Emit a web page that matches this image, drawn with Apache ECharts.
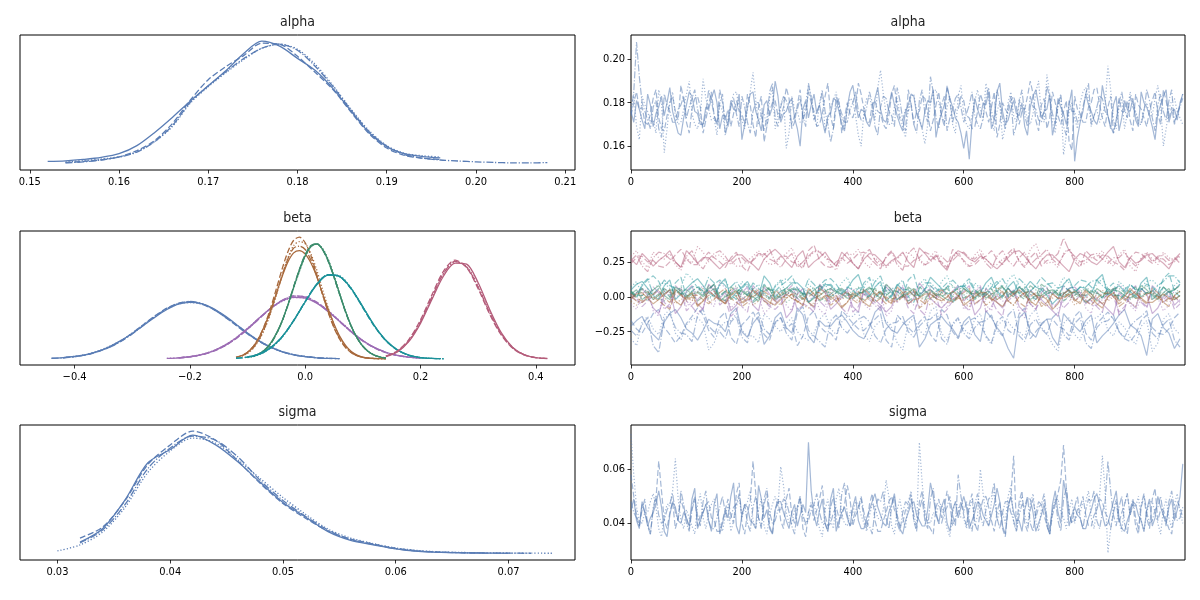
<!DOCTYPE html>
<html><head><meta charset="utf-8">
<script src="https://cdn.jsdelivr.net/npm/echarts@6/dist/echarts.min.js"></script>
<style>html,body{margin:0;padding:0;background:#fff}#c{width:1200px;height:600px}</style>
</head><body><div id="c"></div>
<script>
// ---------------- DATA ----------------
const varNames = ['alpha', 'beta', 'sigma'];
const drawTicks = [0, 200, 400, 600, 800];
const alphaKdeTicks = [0.15, 0.16, 0.17, 0.18, 0.19, 0.20, 0.21];
const betaKdeTicks = [-0.4, -0.2, 0.0, 0.2, 0.4];
const sigmaKdeTicks = [0.03, 0.04, 0.05, 0.06, 0.07];
const alphaTraceTicks = [0.16, 0.18, 0.20];
const betaTraceTicks = [-0.25, 0.00, 0.25];
const sigmaTraceTicks = [0.04, 0.06];
const alphaThin = 5, sigmaThin = 5, betaThin = 10; // draws kept every N iterations

// KDE of alpha, one row per chain
const alphaKdeGrid = [.152,.154,.156,.158,.160,.162,.164,.166,.168,.170,.172,.174,.176,.178,.180,.182,.184,.186,.188,.190,.192,.194,.196,.198,.200,.202,.204,.206,.208];
const alphaKde = [
 [1.2,1.5,2.2,3.2,5.0,9.0,15.5,23,31,38.5,46,54.5,60.5,58,52,46,37,26,15.5,8.5,5,3.6,3.0,null,null,null,null,null,null],
 [null,.6,1.2,2.0,3.4,6.5,11.5,20,31.5,41.5,48,53.5,59.5,59,53,45,36.5,25.5,15,7.8,4.2,2.8,2.2,null,null,null,null,null,null],
 [null,1.0,1.6,2.4,3.5,6.0,11,18.5,30,38,45,51.5,57,59,56.5,49,38.5,27,16.5,9.0,5.2,4.0,3.4,null,null,null,null,null,null],
 [null,.5,1.0,1.9,3.3,5.8,11,19,30.5,38.5,45.5,52,57,59,56,48,38,26.5,16,8.8,4.6,2.8,1.9,1.4,1.0,.7,.5,.5,.6]
];

// KDE of beta: one grid per coefficient, one row per chain
const betaKdeGrids = [
 [-.44,-.42,-.40,-.38,-.36,-.34,-.32,-.30,-.28,-.26,-.24,-.22,-.20,-.18,-.16,-.14,-.12,-.10,-.08,-.06,-.04,-.02,0,.02,.04,.06],
 [-.24,-.22,-.20,-.18,-.16,-.14,-.12,-.10,-.08,-.06,-.04,-.02,0,.02,.04,.06,.08,.10,.12,.14,.16,.18,.20],
 [-.12,-.11,-.10,-.09,-.08,-.07,-.06,-.05,-.04,-.03,-.02,-.01,0,.01,.02,.03,.04,.05,.06,.07,.08,.09,.10,.11,.12,.13,.14],
 [-.10,-.09,-.08,-.07,-.06,-.05,-.04,-.03,-.02,-.01,0,.01,.02,.03,.04,.05,.06,.07,.08,.09,.10,.11,.12,.13,.14],
 [-.12,-.10,-.08,-.06,-.04,-.02,0,.02,.04,.06,.08,.10,.12,.14,.16,.18,.20,.22,.24],
 [.14,.16,.18,.20,.22,.24,.26,.28,.30,.32,.34,.36,.38,.40,.42]
];
const betaKde = [
 [
  [.06,.12,.22,.38,.66,1.08,1.62,2.25,2.98,3.72,4.38,4.86,5.02,4.90,4.48,3.84,3.08,2.30,1.60,1.04,.63,.36,.20,.10,.05,null],
  [null,.10,.20,.36,.64,1.03,1.57,2.28,3.08,3.85,4.50,4.93,5.08,4.88,4.40,3.74,2.98,2.22,1.56,1.03,.64,.37,.21,.11,.05,.02],
  [null,.11,.22,.40,.70,1.10,1.62,2.30,3.05,3.80,4.42,4.85,5.00,4.86,4.45,3.80,3.05,2.28,1.62,1.08,.67,.39,.22,.12,null,null],
  [.05,.10,.20,.36,.63,1.02,1.55,2.22,3.00,3.78,4.46,4.92,5.10,4.92,4.42,3.76,3.00,2.24,1.58,1.04,.64,.36,.20,.10,.05,.03]
 ],
 [
  [.04,.09,.19,.38,.70,1.20,1.86,2.70,3.62,4.50,5.15,5.46,5.40,4.95,4.20,3.32,2.42,1.63,1.02,.59,.31,.15,.07],
  [null,.08,.18,.36,.66,1.13,1.79,2.62,3.56,4.46,5.18,5.58,5.52,5.03,4.25,3.33,2.39,1.58,.97,.56,.30,.14,null],
  [.05,.10,.20,.40,.72,1.21,1.88,2.71,3.62,4.46,5.10,5.44,5.41,5.00,4.27,3.38,2.45,1.62,.99,.57,.30,.14,.06],
  [null,.09,.19,.37,.68,1.15,1.81,2.64,3.57,4.48,5.20,5.56,5.47,4.98,4.20,3.30,2.38,1.60,1.00,.59,.32,.16,.07]
 ],
 [
  [.13,.30,.60,1.1,1.9,3.0,4.3,5.8,7.3,8.6,9.4,9.6,9.3,8.5,7.3,5.8,4.4,3.1,2.0,1.2,.65,.33,.16,.08,.04,.02,.01],
  [.15,.30,.60,1.12,1.92,3.05,4.52,6.22,7.98,9.50,10.52,10.80,10.30,9.12,7.50,5.75,4.12,2.76,1.72,1.00,.54,.27,.13,.06,.03,null,null],
  [null,.24,.50,.95,1.66,2.70,4.05,5.68,7.40,8.95,10.05,10.40,10.22,9.30,7.88,6.18,4.50,3.05,1.92,1.12,.60,.30,.14,.06,.03,.01,null],
  [null,.26,.53,1.00,1.74,2.80,4.16,5.76,7.40,8.86,9.82,10.00,9.70,8.74,7.34,5.72,4.16,2.82,1.78,1.04,.56,.28,.13,.06,.03,.01,.01]
 ],
 [
  [null,.24,.46,.82,1.40,2.26,3.38,4.78,6.34,7.84,9.14,9.96,10.18,9.73,8.72,7.30,5.74,4.21,2.90,1.86,1.12,.63,.33,.16,.07],
  [null,null,.42,.78,1.35,2.22,3.35,4.80,6.42,7.95,9.25,10.05,10.22,9.70,8.64,7.22,5.66,4.14,2.85,1.84,1.12,.64,.34,.17,null],
  [.12,.24,.46,.82,1.40,2.24,3.32,4.70,6.25,7.75,9.06,9.92,10.20,9.80,8.82,7.40,5.80,4.24,2.90,1.86,1.12,.62,.32,.16,.08],
  [null,.20,.41,.76,1.33,2.20,3.34,4.78,6.38,7.90,9.20,10.02,10.20,9.70,8.66,7.24,5.68,4.17,2.88,1.86,1.13,.64,.34,.17,.08]
 ],
 [
  [null,.17,.44,1.00,1.98,3.40,5.05,6.56,7.42,7.30,6.24,4.62,2.96,1.65,.80,.33,.12,.04,null],
  [.06,.17,.43,.99,1.97,3.42,5.10,6.64,7.48,7.30,6.18,4.53,2.88,1.60,.77,.32,.12,.04,.01],
  [null,.14,.39,.94,1.92,3.36,5.04,6.60,7.48,7.36,6.26,4.60,2.94,1.63,.79,.33,.12,.04,.01],
  [.05,.15,.40,.96,1.94,3.38,5.08,6.62,7.44,7.28,6.20,4.58,2.94,1.64,.79,.32,.12,.05,.02]
 ],
 [
  [.20,.62,1.55,3.15,5.30,7.35,8.50,8.40,6.75,4.38,2.34,1.02,.37,.11,.03],
  [.25,.72,1.74,3.46,5.70,7.78,8.76,8.10,6.22,3.96,2.12,.94,.35,.11,.03],
  [.22,.66,1.62,3.28,5.46,7.55,8.62,8.20,6.45,4.16,2.24,.99,.36,.11,null],
  [.24,.68,1.64,3.30,5.50,7.58,8.64,8.14,6.36,4.10,2.22,.98,.37,.12,.04]
 ]
];

// KDE of sigma, one row per chain
const sigmaKdeGrid = [.030,.032,.034,.036,.038,.040,.042,.044,.046,.048,.050,.052,.054,.056,.058,.060,.062,.064,.066,.068,.070,.072,.074];
const sigmaKde = [
 [null,5.9,12.7,27.3,45.9,52.7,60,55.2,46.5,36,26,18.6,11.2,6.8,4.6,2.5,1.24,.74,.5,.37,.31,null,null],
 [null,8,13.5,27,45,55,62,57.5,47,35.5,25.5,18,11.5,7.5,5,2.8,1.5,.9,.6,.45,null,null,null],
 [1.5,4.5,11,23.5,41,52,58.5,56,47.5,38,28.5,20,12.5,8,5.2,3.0,1.7,1.0,.7,.5,.4,.35,.3],
 [null,5.5,12,25,43,53.5,59.5,57.5,49,37,27,19,12,7.2,4.8,2.6,1.4,.8,.55,.42,.35,.3,null]
];

// Trace of alpha (every 5th draw), one row per chain
const alphaTrace = [
 [.176,.171,.181,.177,.172,.168,.184,.179,.169,.175,.178,.183,.174,.180,.187,.176,.171,.166,.165,.173,
  .179,.185,.183,.176,.175,.170,.170,.178,.177,.182,.186,.180,.168,.174,.174,.169,.181,.177,.176,.184,
  .163,.170,.178,.184,.185,.176,.172,.167,.179,.181,.174,.178,.190,.183,.171,.175,.176,.180,.182,.173,
  .168,.160,.177,.181,.173,.179,.184,.175,.179,.172,.166,.174,.175,.182,.181,.176,.170,.167,.178,.185,
  .188,.180,.173,.177,.176,.171,.169,.174,.182,.187,.177,.172,.171,.178,.185,.179,.174,.170,.167,.176,
  .179,.184,.183,.175,.172,.168,.176,.181,.180,.186,.164,.171,.175,.179,.187,.182,.178,.173,.171,.166,
  .159,.167,.154,.171,.182,.177,.173,.180,.179,.185,.168,.172,.185,.189,.176,.170,.172,.177,.181,.175,
  .174,.180,.169,.165,.178,.183,.186,.179,.173,.176,.177,.184,.165,.171,.182,.178,.175,.170,.179,.186,
  .153,.164,.171,.176,.184,.179,.176,.172,.170,.175,.188,.181,.174,.168,.179,.183,.167,.173,.181,.177,
  .176,.182,.172,.169,.185,.180,.178,.174,.169,.163,.175,.179,.183,.186,.171,.176,.177,.172,.180,.184],
 [.174,.180,.185,.177,.178,.171,.170,.175,.182,.186,.173,.168,.167,.174,.180,.183,.176,.172,.188,.181,
  .171,.166,.177,.182,.183,.178,.166,.172,.179,.185,.174,.170,.186,.180,.172,.177,.169,.175,.181,.176,
  .175,.170,.184,.179,.170,.164,.178,.183,.162,.169,.176,.180,.181,.174,.173,.178,.187,.182,.168,.171,
  .179,.186,.172,.176,.185,.180,.176,.169,.170,.175,.183,.189,.174,.168,.178,.182,.166,.173,.180,.175,
  .173,.178,.189,.184,.177,.171,.171,.179,.181,.176,.175,.170,.168,.174,.184,.188,.178,.172,.172,.167,
  .186,.179,.170,.176,.176,.183,.182,.175,.167,.172,.179,.185,.174,.169,.188,.181,.171,.177,.177,.183,
  .181,.174,.173,.168,.169,.176,.184,.180,.176,.171,.178,.185,.164,.170,.180,.177,.175,.181,.183,.178,
  .170,.176,.177,.183,.190,.184,.172,.167,.179,.182,.168,.173,.185,.180,.174,.170,.176,.181,.162,.158,
  .183,.177,.175,.171,.171,.178,.180,.186,.187,.179,.173,.169,.178,.183,.166,.172,.182,.176,.176,.181,
  .172,.167,.184,.179,.177,.173,.169,.176,.181,.185,.175,.170,.186,.181,.173,.178,.170,.175,.179,.184],
 [.178,.184,.169,.163,.183,.179,.176,.171,.172,.166,.186,.180,.157,.168,.180,.185,.174,.170,.171,.177,
  .184,.190,.175,.170,.168,.174,.191,.182,.177,.172,.173,.165,.180,.176,.166,.173,.179,.184,.185,.178,
  .172,.168,.177,.185,.194,.181,.170,.175,.175,.169,.182,.187,.168,.174,.179,.183,.159,.166,.183,.177,
  .176,.171,.171,.180,.188,.183,.174,.169,.180,.186,.167,.172,.178,.181,.185,.177,.173,.168,.177,.182,
  .181,.174,.165,.160,.176,.182,.183,.177,.172,.187,.195,.184,.175,.170,.170,.178,.182,.174,.169,.164,
  .177,.183,.184,.176,.173,.168,.161,.170,.179,.185,.186,.180,.174,.171,.178,.183,.170,.166,.183,.188,
  .175,.170,.168,.174,.181,.186,.177,.172,.189,.182,.172,.167,.176,.180,.163,.169,.180,.185,.174,.171,
  .182,.176,.178,.172,.170,.175,.185,.190,.175,.171,.193,.184,.171,.166,.179,.183,.156,.165,.176,.180,
  .173,.168,.180,.185,.187,.181,.169,.174,.177,.171,.174,.179,.197,.186,.172,.168,.178,.182,.168,.175,
  .185,.180,.176,.172,.171,.177,.180,.174,.174,.182,.188,.179,.160,.168,.177,.181,.182,.176,.173,.170],
 [.175,.185,.208,.192,.180,.176,.172,.168,.178,.181,.168,.164,.184,.179,.176,.171,.171,.177,.179,.183,
  .173,.178,.182,.186,.177,.172,.169,.175,.186,.181,.174,.170,.180,.184,.165,.171,.178,.182,.175,.169,
  .183,.178,.171,.166,.176,.180,.180,.174,.167,.173,.185,.189,.173,.169,.178,.183,.181,.176,.170,.174,
  .177,.182,.174,.169,.189,.182,.172,.176,.179,.185,.176,.170,.162,.168,.183,.179,.175,.171,.171,.177,
  .180,.185,.176,.172,.173,.178,.185,.180,.169,.165,.178,.183,.182,.176,.174,.169,.187,.181,.172,.177,
  .176,.180,.170,.166,.181,.186,.175,.171,.192,.185,.173,.168,.179,.183,.167,.173,.177,.182,.184,.178,
  .171,.175,.179,.185,.174,.170,.168,.173,.182,.187,.176,.172,.186,.180,.173,.168,.178,.183,.165,.170,
  .180,.186,.174,.169,.183,.178,.177,.172,.171,.176,.188,.182,.175,.170,.179,.184,.169,.165,.181,.176,
  .176,.171,.172,.178,.184,.189,.170,.174,.178,.183,.182,.176,.174,.169,.166,.172,.180,.185,.177,.173,
  .183,.178,.175,.170,.170,.176,.186,.181,.173,.167,.179,.184,.176,.172,.181,.186,.171,.175,.178,.182]
];

// Trace of sigma (every 5th draw), one row per chain
const sigmaTrace = [
 [.045,.049,.041,.038,.048,.044,.039,.042,.044,.047,.052,.046,.037,.035,.043,.048,.046,.041,.040,.044,
  .042,.039,.049,.053,.038,.041,.044,.047,.041,.037,.047,.051,.036,.040,.045,.042,.050,.055,.039,.036,
  .043,.047,.046,.041,.040,.038,.054,.049,.042,.045,.038,.036,.045,.048,.048,.044,.041,.038,.044,.047,
  .039,.043,.047,.044,.070,.052,.043,.039,.045,.049,.040,.037,.049,.053,.037,.041,.044,.046,.042,.039,
  .046,.050,.041,.038,.038,.042,.045,.048,.051,.046,.043,.040,.039,.044,.047,.051,.042,.038,.036,.041,
  .044,.047,.048,.043,.041,.039,.039,.045,.055,.050,.043,.040,.046,.049,.040,.037,.045,.048,.042,.046,
  .050,.046,.038,.041,.044,.048,.047,.043,.041,.039,.043,.047,.053,.048,.039,.036,.046,.050,.044,.041,
  .041,.037,.045,.049,.049,.044,.037,.040,.043,.047,.040,.036,.047,.052,.044,.040,.056,.050,.039,.043,
  .046,.043,.042,.038,.038,.042,.045,.049,.051,.047,.043,.039,.040,.044,.048,.052,.042,.038,.037,.041,
  .044,.048,.047,.043,.041,.037,.045,.049,.039,.042,.050,.046,.043,.040,.046,.049,.041,.045,.050,.062],
 [.058,.050,.043,.039,.047,.044,.040,.036,.045,.049,.063,.052,.041,.038,.044,.048,.038,.042,.049,.045,
  .042,.038,.046,.050,.039,.043,.044,.047,.048,.042,.041,.037,.037,.041,.045,.049,.043,.040,.051,.055,
  .040,.036,.044,.048,.063,.051,.042,.039,.047,.051,.039,.036,.045,.049,.041,.038,.049,.053,.043,.040,
  .046,.050,.038,.035,.044,.047,.041,.045,.049,.054,.043,.039,.040,.044,.046,.042,.042,.047,.054,.049,
  .039,.043,.045,.049,.042,.038,.047,.051,.041,.037,.037,.041,.044,.048,.050,.045,.043,.039,.040,.045,
  .045,.049,.041,.037,.048,.052,.043,.040,.038,.036,.046,.049,.042,.046,.052,.047,.039,.042,.044,.048,
  .043,.039,.047,.051,.040,.037,.045,.049,.050,.046,.041,.037,.044,.048,.038,.035,.046,.050,.065,.039,
  .048,.052,.040,.037,.045,.049,.042,.046,.047,.043,.039,.036,.043,.047,.051,.056,.069,.053,.044,.040,
  .041,.045,.046,.050,.043,.039,.039,.043,.045,.049,.048,.044,.042,.038,.044,.048,.040,.044,.047,.051,
  .043,.047,.039,.036,.046,.050,.042,.038,.049,.053,.041,.045,.045,.041,.038,.036,.044,.048,.046,.042],
 [.073,.058,.046,.041,.040,.044,.044,.048,.051,.046,.038,.035,.043,.047,.047,.052,.064,.049,.041,.038,
  .045,.042,.039,.036,.047,.051,.042,.038,.044,.047,.049,.044,.040,.037,.043,.047,.037,.041,.046,.050,
  .042,.046,.048,.052,.041,.038,.045,.049,.039,.036,.043,.047,.050,.046,.061,.054,.044,.040,.040,.045,
  .046,.050,.042,.039,.044,.048,.047,.043,.038,.035,.045,.049,.041,.038,.049,.053,.043,.040,.039,.044,
  .044,.048,.047,.043,.040,.037,.043,.047,.046,.042,.041,.045,.056,.050,.039,.036,.045,.049,.042,.038,
  .048,.052,.041,.038,.070,.055,.045,.041,.040,.044,.043,.047,.047,.043,.038,.035,.044,.048,.046,.042,
  .042,.038,.045,.049,.039,.043,.060,.051,.043,.039,.048,.052,.041,.045,.044,.040,.050,.054,.040,.037,
  .046,.050,.043,.039,.047,.051,.041,.037,.045,.049,.039,.036,.044,.048,.049,.044,.042,.038,.045,.049,
  .040,.044,.044,.048,.048,.052,.042,.038,.046,.050,.065,.052,.029,.038,.045,.049,.041,.037,.047,.051,
  .043,.047,.046,.050,.041,.037,.044,.048,.048,.044,.040,.036,.045,.049,.042,.038,.047,.051,.044,.040],
 [.048,.044,.042,.039,.045,.049,.039,.036,.046,.050,.043,.040,.041,.045,.047,.051,.044,.041,.052,.047,
  .040,.037,.045,.049,.043,.039,.048,.052,.041,.038,.038,.042,.046,.050,.044,.041,.042,.046,.047,.051,
  .043,.047,.040,.037,.046,.050,.042,.038,.049,.053,.044,.040,.041,.045,.045,.049,.048,.044,.039,.036,
  .045,.049,.043,.040,.041,.045,.047,.051,.044,.040,.040,.037,.046,.050,.042,.038,.051,.055,.043,.039,
  .041,.045,.046,.050,.044,.040,.039,.036,.045,.049,.048,.052,.042,.038,.046,.050,.040,.037,.044,.048,
  .047,.051,.043,.039,.045,.049,.041,.038,.049,.053,.044,.040,.040,.044,.046,.050,.043,.039,.058,.050,
  .044,.048,.041,.037,.047,.051,.043,.039,.045,.049,.050,.055,.042,.038,.044,.048,.048,.044,.041,.037,
  .043,.047,.046,.050,.040,.037,.044,.048,.047,.051,.042,.038,.045,.049,.041,.037,.049,.053,.044,.040,
  .046,.050,.042,.038,.045,.049,.048,.052,.041,.038,.044,.048,.063,.052,.043,.039,.046,.050,.040,.036,
  .045,.049,.042,.038,.047,.051,.044,.040,.041,.045,.046,.050,.043,.039,.048,.052,.045,.041,.042,.046]
];

// Trace of beta (every 10th draw): [coefficient][chain]
const betaTrace = [
 [
  [-.21,-.17,-.14,-.22,-.27,-.31,-.18,-.12,-.09,-.15,-.23,-.26,-.31,-.24,-.16,-.19,-.20,-.25,-.12,-.08,
   -.25,-.29,-.19,-.14,-.34,-.28,-.15,-.11,-.22,-.26,-.08,-.13,-.28,-.33,-.17,-.21,-.21,-.16,-.13,-.18,
   -.24,-.28,-.30,-.22,-.11,-.07,-.19,-.24,-.26,-.20,-.16,-.13,-.36,-.30,-.20,-.17,-.14,-.19,-.23,-.29,
   -.18,-.14,-.27,-.32,-.10,-.15,-.22,-.27,-.37,-.44,-.15,-.11,-.25,-.29,-.19,-.16,-.29,-.35,-.12,-.17,
   -.21,-.25,-.17,-.13,-.33,-.28,-.24,-.19,-.13,-.09,-.20,-.23,-.28,-.42,-.16,-.12,-.22,-.26,-.37,-.30],
  [-.17,-.23,-.26,-.19,-.12,-.09,-.22,-.27,-.33,-.28,-.19,-.14,-.08,-.13,-.24,-.29,-.15,-.11,-.29,-.34,
   -.20,-.16,-.11,-.17,-.27,-.31,-.18,-.15,-.23,-.19,-.35,-.28,-.14,-.10,-.21,-.25,-.26,-.31,-.10,-.14,
   -.19,-.23,-.24,-.20,-.16,-.12,-.31,-.36,-.13,-.18,-.22,-.26,-.18,-.14,-.27,-.32,-.09,-.13,-.25,-.30,
   -.21,-.17,-.15,-.20,-.28,-.33,-.18,-.14,-.24,-.27,-.12,-.08,-.30,-.25,-.20,-.16,-.16,-.21,-.23,-.28,
   -.14,-.10,-.26,-.31,-.19,-.15,-.11,-.16,-.25,-.30,-.32,-.27,-.17,-.13,-.22,-.26,-.27,-.23,-.15,-.11],
  [-.30,-.35,-.18,-.14,-.23,-.27,-.13,-.09,-.26,-.31,-.20,-.16,-.15,-.19,-.38,-.33,-.22,-.18,-.17,-.12,
   -.24,-.28,-.28,-.33,-.12,-.16,-.21,-.25,-.19,-.15,-.25,-.29,-.31,-.26,-.16,-.12,-.23,-.27,-.18,-.14,
   -.14,-.10,-.27,-.32,-.21,-.17,-.17,-.22,-.33,-.38,-.19,-.15,-.24,-.28,-.10,-.07,-.26,-.31,-.20,-.16,
   -.23,-.27,-.16,-.12,-.29,-.34,-.21,-.17,-.18,-.23,-.25,-.29,-.13,-.09,-.22,-.26,-.34,-.39,-.19,-.15,
   -.27,-.31,-.20,-.16,-.15,-.11,-.24,-.28,-.18,-.22,-.29,-.34,-.21,-.17,-.39,-.33,-.16,-.12,-.23,-.27],
  [-.24,-.28,-.20,-.15,-.35,-.40,-.16,-.12,-.22,-.26,-.27,-.32,-.13,-.09,-.21,-.25,-.25,-.30,-.18,-.14,
   -.29,-.33,-.15,-.11,-.23,-.27,-.19,-.15,-.26,-.31,-.11,-.07,-.24,-.28,-.32,-.36,-.17,-.13,-.22,-.26,
   -.20,-.16,-.14,-.18,-.28,-.33,-.23,-.19,-.18,-.14,-.25,-.29,-.21,-.17,-.16,-.12,-.30,-.34,-.19,-.15,
   -.26,-.30,-.22,-.18,-.17,-.13,-.24,-.28,-.13,-.09,-.28,-.32,-.20,-.16,-.23,-.27,-.15,-.11,-.27,-.31,
   -.19,-.15,-.33,-.37,-.22,-.18,-.17,-.13,-.25,-.29,-.21,-.17,-.14,-.10,-.26,-.30,-.20,-.16,-.31,-.36]
 ],
 [
  [-.02,.03,.06,.01,-.08,-.12,.01,.05,-.12,-.07,.04,.08,-.05,-.09,.09,.04,-.01,.03,-.10,-.06,
   .03,.07,-.06,-.10,.07,.02,-.03,.01,-.15,-.10,.02,.06,-.04,-.08,.08,.03,-.09,-.05,.00,.04,
   -.07,-.11,.05,.01,-.02,-.06,-.11,-.07,.03,.07,-.05,-.01,.10,.05,-.01,-.05,-.08,-.04,.04,.08,
   -.03,.01,-.13,-.08,.06,.02,-.04,-.08,.01,.05,-.07,-.11,.05,.01,-.02,-.06,-.10,-.14,.02,.06,
   .07,.03,-.05,-.01,-.01,-.05,-.09,-.13,.03,-.01,-.04,-.08,.06,.02,-.12,-.08,.00,.04,-.06,-.02],
  [.03,-.01,-.07,-.03,.01,.05,-.04,-.08,.08,.04,-.10,-.06,-.02,.02,.05,.09,-.06,-.02,-.14,-.10,
   .00,-.04,.06,.02,-.03,-.07,-.09,-.05,.04,.08,-.01,-.05,-.07,-.11,.09,.05,-.05,-.01,.02,.06,
   -.11,-.07,.03,-.01,-.04,-.08,.07,.03,-.02,.02,-.08,-.12,.01,.05,.05,.01,-.13,-.09,-.03,.01,
   .04,.08,-.06,-.02,.02,-.02,-.10,-.14,.06,.02,-.01,.03,-.05,-.09,.03,.07,-.08,-.04,.08,.04,
   -.03,.01,.01,-.03,-.07,-.11,.04,.00,-.11,-.07,.00,.04,-.04,-.08,.05,.01,-.02,.02,-.09,-.05],
  [-.05,-.09,.02,.06,-.10,-.14,.06,.02,-.01,.03,-.07,-.03,.04,.08,-.03,-.07,.11,.06,-.08,-.04,
   -.02,.02,.05,.01,-.12,-.08,.01,.05,-.06,-.10,.07,.03,-.03,.01,-.09,-.13,.03,-.01,-.01,.03,
   .06,.02,-.05,-.09,.00,.04,-.14,-.10,.04,.08,-.02,-.06,-.07,-.03,.08,.04,-.04,-.08,.01,.05,
   -.09,-.05,.03,.07,-.06,-.10,.05,.01,-.01,.03,-.11,-.15,.02,-.02,.07,.03,-.05,-.09,-.03,.01,
   .01,.05,-.08,-.12,.04,.00,-.02,.02,.09,.05,-.06,-.10,-.01,.03,.03,-.01,-.10,-.06,.05,.09],
  [.01,-.03,-.04,.00,.07,.03,-.09,-.05,.02,.06,-.03,-.07,-.12,-.08,.05,.01,-.01,-.05,.03,.07,
   -.07,-.11,.08,.04,-.02,-.06,-.05,-.01,.01,.05,-.10,-.06,.04,.00,-.03,-.07,.06,.02,-.08,-.12,
   -.01,.03,.02,-.02,-.06,-.10,.09,.05,-.04,.00,.00,.04,-.09,-.13,.03,-.01,.05,.01,-.02,.02,
   -.06,-.10,.04,.08,-.11,-.07,.01,-.03,-.03,.01,.07,.03,-.05,-.09,-.01,.03,.03,-.01,-.08,-.04,
   .05,.01,-.02,-.06,-.06,-.02,.02,.06,-.13,-.09,.04,.08,-.03,-.07,.08,.04,-.04,.00,.00,-.04]
 ],
 [
  [-.01,.02,.03,-.01,-.05,-.02,.02,.05,-.03,-.06,.00,.03,-.07,-.03,.04,.01,-.02,-.05,.01,.04,
   -.04,-.01,.05,.01,-.01,-.04,-.06,-.02,.02,-.01,-.03,-.06,.06,.02,-.02,.01,.00,-.03,-.08,-.04,
   .03,.00,-.04,-.07,.01,.04,-.02,-.05,.07,.03,-.05,-.02,-.01,.02,.02,-.01,-.03,.00,.04,.01,
   -.06,-.03,.00,.03,.03,-.01,-.04,-.07,-.01,.02,.05,.01,-.03,-.06,.01,-.02,-.09,-.05,.02,.05,
   -.02,-.05,.04,.00,-.05,-.08,.00,.03,-.03,.00,.06,.02,-.01,-.04,-.04,-.01,.02,-.01,-.02,.01],
  [.02,-.01,-.03,.00,.00,-.03,-.06,-.09,.04,.01,-.02,.01,.01,-.02,-.05,-.02,.03,.06,-.01,-.04,
   -.07,-.04,.02,.05,-.03,-.06,.05,.01,-.01,.02,-.04,-.01,.00,.03,.03,-.01,-.06,-.03,.01,.04,
   -.02,-.05,.06,.02,-.04,-.01,.00,-.03,-.03,.00,.02,.05,-.08,-.05,.04,.01,-.01,-.04,-.03,.00,
   .03,.06,-.05,-.02,.01,-.02,-.02,.01,.05,.02,-.04,-.07,.00,.03,-.07,-.04,.02,-.01,-.01,.02,
   .04,.01,-.03,-.06,-.01,.02,.03,.00,-.05,-.02,.01,.04,-.02,-.05,.06,.03,-.04,-.01,.00,-.03],
  [-.03,-.06,.01,.04,-.02,.01,.04,.01,-.05,-.02,.00,-.03,.03,.06,-.04,-.01,-.01,-.04,.06,.03,
   -.02,.01,-.06,-.03,.02,-.01,-.01,.02,.04,.01,-.03,-.06,-.08,-.04,.01,.04,.03,-.01,-.02,.01,
   .00,-.03,-.04,-.01,.05,.02,-.01,-.04,-.03,.00,.02,.05,.00,-.03,-.06,-.03,.03,.00,-.02,.01,
   -.04,-.07,.01,.04,-.02,.01,.07,.03,-.03,-.06,.00,.03,-.05,-.02,.02,-.01,-.01,.02,.03,.00,
   -.06,-.03,.00,-.03,.02,.05,-.03,.00,.01,-.02,-.04,-.07,.04,.01,-.02,.01,-.05,-.02,.01,.04],
  [.00,-.03,-.04,-.01,.02,.05,-.01,-.04,.05,.02,-.03,.00,-.06,-.03,.01,.04,-.02,-.05,.03,.00,
   -.05,-.02,.00,.03,.04,.01,-.03,-.06,-.01,.02,.02,-.01,-.04,-.07,.06,.03,-.02,.01,-.07,-.04,
   .01,.04,-.03,.00,.03,-.01,-.05,-.02,.00,.03,.04,.01,-.02,-.05,-.01,.02,.05,.02,-.04,-.01,
   -.02,.01,.03,.00,-.06,-.03,.01,.04,-.03,-.06,.00,.03,.04,.01,-.04,-.07,.02,-.01,-.01,.02,
   -.03,.00,.05,.02,-.02,-.05,.00,.03,-.07,-.04,.02,-.01,-.01,.02,.03,.00,-.04,-.07,.01,.04]
 ],
 [
  [.02,.05,-.02,.01,.05,.08,.01,-.02,.07,.04,-.01,.02,.03,.00,.06,.09,-.03,.00,.02,.05,
   .04,.01,.00,-.03,.08,.05,-.02,.01,.03,.06,.05,.02,-.04,-.01,.01,.04,.06,.03,.02,-.01,
   -.01,.02,.04,.07,.02,-.01,.09,.05,-.02,.01,.03,.06,.00,.03,.05,.02,.01,-.02,-.03,.00,
   .06,.03,.02,.05,-.01,.02,.04,.07,.03,.00,.07,.04,-.02,.01,.01,.04,.05,.02,.00,.03,
   .03,.00,-.04,-.01,.06,.03,.02,.05,.04,.01,-.01,.02,.08,.05,.01,-.02,.03,.06,-.02,.01],
  [.04,.01,.01,.04,-.02,.01,.06,.03,.02,.05,.05,.02,-.03,.00,.03,.06,.00,-.03,.07,.04,
   .01,.04,-.04,-.01,.04,.07,.02,-.01,.06,.03,-.01,.02,.03,.00,.08,.05,.00,.03,.05,.02,
   .02,-.01,-.02,.01,.06,.03,.01,.04,.04,.01,-.03,.00,.07,.04,.02,-.01,.03,.06,.00,.03,
   -.01,.02,.05,.02,.03,.06,-.02,.01,.06,.03,.01,-.02,.04,.01,.09,.06,.02,.05,-.03,.00,
   .05,.02,.01,.04,.03,.00,.06,.03,-.02,.01,.04,.07,.00,.03,.02,-.01,.07,.04,.01,.04],
  [.00,.03,.05,.02,.02,-.01,-.03,.00,.04,.07,.01,.04,.07,.04,-.01,.02,.03,.00,.05,.08,
   -.02,.01,.06,.03,.01,-.02,.03,.06,-.04,-.01,.04,.01,.02,.05,.00,-.03,.07,.04,-.01,.02,
   .04,.07,.02,-.01,-.03,.00,.05,.02,.01,.04,.06,.03,.03,.00,-.02,.01,.04,.07,.08,.05,
   .01,.04,-.01,.02,.05,.02,.02,-.01,.00,.03,.04,.07,-.03,.00,.06,.03,.02,.05,.03,.00,
   -.01,.02,.07,.04,.02,-.01,.04,.01,.01,-.02,-.02,.01,.05,.08,.03,.00,.00,.03,.06,.03],
  [.03,.00,.06,.03,-.01,.02,.02,.05,.05,.02,.00,.03,.04,.01,.08,.05,.01,.04,-.02,.01,
   .05,.02,.02,-.01,.03,.06,-.01,.02,.07,.04,.01,-.02,.04,.07,-.03,.00,.02,.05,.06,.03,
   .00,.03,.03,.06,.05,.02,.02,-.01,-.02,.01,.07,.04,.01,-.02,.04,.01,.00,.03,.03,.06,
   .06,.03,-.02,.01,.02,-.01,.05,.08,.01,.04,.03,.00,.08,.05,-.01,.02,.04,.01,.02,.05,
   .01,.04,.05,.02,-.03,.00,.03,.06,.06,.03,.02,-.01,.00,.03,.04,.01,.01,.04,.05,.08]
 ],
 [
  [.05,.09,.11,.06,.01,-.02,.08,.12,-.02,.02,.06,.10,.13,.08,.03,.00,.09,.13,-.01,.03,
   .07,.11,.04,.00,.15,.10,.00,.04,.06,.10,.10,.06,-.04,.00,.05,.09,.08,.04,.02,.06,
   .12,.16,.04,.00,.07,.11,-.03,.01,.09,.05,.05,.01,.01,.05,.14,.10,.06,.02,.03,.07,
   .08,.04,-.01,.03,.10,.14,.04,.00,.07,.11,.02,.06,.11,.07,.05,.01,-.05,-.01,.09,.13,
   .03,.07,.06,.02,.12,.16,.01,.05,.08,.04,.04,.00,.10,.14,-.02,.02,.07,.03,.05,.09],
  [.03,-.01,.08,.12,.15,.11,.04,.00,.10,.14,.00,.04,.07,.03,.05,.09,.12,.08,.02,-.02,
   .06,.10,-.03,.01,.09,.05,.04,.08,.11,.15,.06,.02,.01,.05,.08,.12,.13,.09,.03,.07,
   .05,.01,.10,.14,-.01,.03,.07,.03,.04,.00,.12,.16,.02,.06,.08,.04,.06,.10,-.04,.00,
   .09,.13,.05,.01,.03,.07,.11,.07,.00,.04,.07,.03,.04,.08,.14,.10,.06,.02,.02,.06,
   .08,.12,.11,.07,.03,-.01,.06,.10,-.02,.02,.09,.05,.05,.09,.07,.03,.13,.17,.04,.00],
  [.07,.11,.01,-.03,.05,.09,.10,.06,.03,.07,.17,.13,.06,.02,-.02,.02,.08,.12,.04,.00,
   .11,.07,.05,.09,.02,-.02,.07,.11,.13,.09,.03,-.01,.09,.05,.06,.10,-.01,.03,.10,.14,
   .04,.00,.08,.12,.12,.08,.02,.06,.06,.02,.00,.04,.09,.13,.05,.01,.11,.15,.07,.03,
   .01,-.03,.10,.06,.06,.10,.03,-.01,.12,.16,.08,.04,.04,.08,.07,.03,.02,.06,.14,.10,
   .05,.01,.00,.04,.09,.13,.06,.02,.11,.07,.03,-.01,.07,.11,.12,.08,.04,.00,.08,.12],
  [.04,.00,.09,.13,.02,.06,.12,.08,.06,.02,.03,.07,.08,.04,.14,.10,.00,.04,.07,.11,
   .05,.01,.10,.06,.03,-.01,.08,.12,.01,.05,.06,.02,.13,.09,.04,.08,.09,.05,.05,.01,
   .02,.06,.07,.03,.11,.15,.04,.00,.08,.12,.00,-.04,.06,.10,.10,.06,.03,.07,.12,.08,
   .07,.11,.04,.00,.01,.05,.09,.13,.06,.02,.13,.09,.02,-.02,.05,.09,.10,.06,.08,.04,
   .03,.07,.07,.11,.12,.08,.05,.01,.01,.05,.09,.05,.06,.02,.04,.08,.11,.15,.15,.10]
 ],
 [
  [.27,.23,.31,.27,.22,.26,.29,.33,.25,.21,.33,.29,.24,.28,.28,.24,.20,.24,.26,.30,
   .30,.26,.23,.19,.27,.31,.34,.30,.25,.21,.29,.33,.21,.25,.28,.32,.26,.22,.32,.28,
   .24,.20,.27,.31,.30,.26,.22,.26,.28,.32,.25,.21,.35,.31,.26,.30,.23,.19,.29,.33,
   .31,.27,.25,.29,.27,.23,.20,.24,.28,.32,.33,.29,.24,.20,.26,.30,.30,.26,.22,.18,
   .27,.31,.29,.25,.23,.27,.32,.36,.25,.21,.28,.24,.26,.30,.31,.27,.24,.20,.27,.31],
  [.24,.28,.29,.25,.26,.22,.21,.25,.30,.34,.27,.23,.23,.27,.32,.28,.25,.21,.28,.32,
   .22,.18,.27,.31,.31,.27,.25,.29,.29,.25,.24,.20,.33,.37,.26,.22,.21,.25,.28,.24,
   .27,.31,.32,.28,.24,.20,.29,.33,.26,.22,.22,.26,.28,.32,.30,.26,.25,.21,.34,.30,
   .26,.22,.23,.27,.29,.33,.27,.23,.31,.35,.25,.21,.28,.32,.22,.26,.27,.23,.30,.34,
   .25,.21,.33,.29,.26,.30,.29,.25,.23,.19,.28,.32,.31,.27,.24,.28,.27,.23,.26,.30],
  [.29,.33,.25,.21,.32,.28,.27,.31,.23,.19,.28,.24,.36,.32,.25,.29,.30,.26,.26,.22,
   .22,.26,.29,.33,.27,.23,.24,.28,.31,.35,.26,.22,.28,.32,.33,.29,.23,.19,.27,.31,
   .30,.34,.25,.21,.28,.24,.21,.25,.27,.31,.32,.28,.26,.22,.29,.33,.24,.20,.28,.32,
   .25,.21,.30,.34,.27,.23,.23,.27,.29,.33,.26,.22,.34,.38,.28,.24,.25,.21,.31,.35,
   .27,.23,.24,.28,.29,.33,.26,.22,.30,.34,.22,.18,.28,.32,.27,.23,.32,.28,.25,.29],
  [.26,.30,.22,.18,.28,.32,.31,.27,.25,.21,.29,.33,.24,.20,.27,.31,.33,.29,.23,.27,
   .28,.24,.26,.30,.30,.34,.25,.21,.27,.31,.21,.25,.29,.33,.32,.28,.26,.22,.28,.32,
   .24,.20,.30,.34,.26,.22,.28,.32,.23,.19,.31,.35,.27,.23,.25,.29,.29,.25,.26,.30,
   .32,.28,.27,.31,.24,.20,.29,.33,.26,.22,.28,.32,.23,.27,.30,.34,.27,.31,.42,.33,
   .29,.25,.26,.30,.31,.27,.24,.28,.28,.32,.26,.22,.27,.31,.25,.29,.30,.26,.28,.24]
 ]
];

// ---------------- STYLE ----------------
const FONT = "'Liberation Sans Narrow','DejaVu Sans Condensed','Roboto Condensed','Liberation Sans',sans-serif";
const blue = '#5a7db5';
const betaColors = ['#5a7db5', '#9c6cb4', '#a8693c', '#3c8c6c', '#1b9199', '#b45c7a'];
const dash = ['solid', [6, 2.6], [1.2, 2], [7, 1.8, 1.2, 1.8]];
const L = {left: 20, width: 555}, R = {left: 631, width: 554};
const rows = [{top: 35, height: 135}, {top: 231, height: 134}, {top: 425, height: 135}];
const kdeRange = [[0.1489, 0.2111], [-0.4947, 0.468], [0.02668, 0.0759]];
const traceRange = [[0.1490, 0.2112], [-0.488, 0.471], [0.0264, 0.0764]];
const minus = s => s.replace('-', '\u2212');

const grids = [], xAxes = [], yAxes = [], series = [], graphics = [];
function frameGrid(g) { grids.push(Object.assign({show: true, borderColor: '#000', borderWidth: 1, backgroundColor: 'transparent', containLabel: false}, g)); }
const labelStyle = {color: '#000', fontSize: 11, fontFamily: FONT};

function addXAxis(gi, range, ticks, fmt) {
  xAxes.push({type: 'value', gridIndex: gi, min: range[0], max: range[1], position: 'bottom',
    axisLine: {show: false, onZero: false}, splitLine: {show: false},
    axisTick: {show: true, length: 3.5, lineStyle: {color: '#000', width: 0.8}, customValues: ticks},
    axisLabel: Object.assign({show: true, margin: 7, customValues: ticks, formatter: fmt}, labelStyle)});
}
function addYAxis(gi, range, ticks, fmt) {
  yAxes.push({type: 'value', gridIndex: gi, min: range[0], max: range[1], position: 'left',
    axisLine: {show: false, onZero: false}, splitLine: {show: false},
    axisTick: {show: !!ticks, length: 3.5, lineStyle: {color: '#000', width: 0.8}, customValues: ticks || []},
    axisLabel: Object.assign({show: !!ticks, margin: 6, customValues: ticks || [], formatter: fmt}, labelStyle)});
}
function kdeSeries(gi, grid, chains, color) {
  chains.forEach((ys, c) => {
    series.push({type: 'line', xAxisIndex: gi, yAxisIndex: gi, showSymbol: false, smooth: 0.3, silent: true,
      data: grid.map((x, i) => ys[i] == null ? null : [x, ys[i]]).filter(Boolean),
      lineStyle: {color: color, width: 1.3, type: dash[c]}});
  });
}
function traceSeries(gi, chains, thin, color, op) {
  chains.forEach((vals, c) => {
    series.push({type: 'line', xAxisIndex: gi, yAxisIndex: gi, showSymbol: false, silent: true,
      data: vals.map((v, i) => [i * thin, v]),
      lineStyle: {color: color, width: 1.2, opacity: op, type: dash[c]}});
  });
}
function kdeYRange(arrs) {
  let m = 0; arrs.forEach(a => a.forEach(v => { if (v != null && v > m) m = v; }));
  return [-0.05 * m, 1.05 * m];
}

const f2 = v => minus(v.toFixed(2)), f1 = v => minus(v.toFixed(1)), f0 = v => String(Math.round(v));
const kdeTicks = [alphaKdeTicks, betaKdeTicks, sigmaKdeTicks];
const kdeFmt = [f2, f1, f2];

rows.forEach((r, k) => {
  frameGrid(Object.assign({}, L, r));
  frameGrid(Object.assign({}, R, r));
  addXAxis(2 * k, kdeRange[k], kdeTicks[k], kdeFmt[k]);
  addXAxis(2 * k + 1, [0, 999], drawTicks, f0);
  [L, R].forEach(P => graphics.push({type: 'text', x: P.left + P.width / 2, y: r.top - 13,
    style: {text: varNames[k], fill: '#222', font: '14px ' + FONT, textAlign: 'center', textVerticalAlign: 'middle'}}));
});

addYAxis(0, kdeYRange(alphaKde), null);
addYAxis(1, traceRange[0], alphaTraceTicks, f2);
addYAxis(2, kdeYRange([].concat(...betaKde)), null);
addYAxis(3, traceRange[1], betaTraceTicks, f2);
addYAxis(4, kdeYRange(sigmaKde), null);
addYAxis(5, traceRange[2], sigmaTraceTicks, f2);

kdeSeries(0, alphaKdeGrid, alphaKde, blue);
traceSeries(1, alphaTrace, alphaThin, blue, 0.55);
betaKde.forEach((chains, j) => kdeSeries(2, betaKdeGrids[j], chains, betaColors[j]));
[0, 1, 4, 3, 2, 5].forEach(j => traceSeries(3, betaTrace[j], betaThin, betaColors[j], 0.5));
kdeSeries(4, sigmaKdeGrid, sigmaKde, blue);
traceSeries(5, sigmaTrace, sigmaThin, blue, 0.55);

const chart = echarts.init(document.getElementById('c'), null, {renderer: 'canvas'});
chart.setOption({animation: false, backgroundColor: '#fff', grid: grids, xAxis: xAxes, yAxis: yAxes, series: series, graphic: graphics});
</script></body></html>
